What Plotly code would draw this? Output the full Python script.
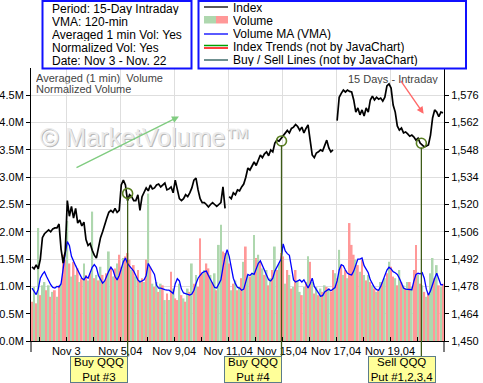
import plotly.graph_objects as go

# ---------------- data ----------------
BARS_PER_DAY = 13          # 30-minute bars per session
FIRST_DAY_BARS = 4         # partial first session shown at the left edge
N_DAYS = 15

day_labels = ["Nov 3", "Nov 5,04", "Nov 9,04", "Nov 11,04", "Nov 15,04", "Nov 17,04", "Nov 19,04"]
day_label_days = [1, 3, 5, 7, 9, 11, 13]   # session number (0 = first full session)

vol_ticks = [0.0, 0.5, 1.0, 1.5, 2.0, 2.5, 3.0, 3.5, 4.0, 4.5]
price_ticks = [1450, 1464, 1478, 1492, 1506, 1520, 1534, 1548, 1562, 1576]

# averaged, normalized volume (millions) per bar
volume = [
    0.72, 0.99, 0.69, 2.07, 0.84, 1.02, 1.08, 0.93, 1.02, 0.81,
    0.90, 0.93, 0.81, 1.02, 1.05, 1.58, 1.49, 2.20, 1.42, 1.18,
    1.45, 1.21, 1.33, 1.08, 1.15, 1.42, 1.21, 1.11, 1.24, 2.37,
    1.15, 1.21, 1.11, 1.36, 1.21, 1.08, 1.24, 1.64, 1.36, 1.18,
    1.33, 1.42, 1.58, 1.36, 1.52, 1.55, 1.61, 1.49, 1.30, 1.39,
    1.18, 1.30, 1.11, 1.15, 1.08, 1.49, 2.70, 1.36, 1.05, 0.99,
    1.08, 0.90, 1.05, 1.02, 0.75, 0.87, 0.75, 1.27, 0.96, 0.78,
    0.75, 1.05, 0.84, 0.78, 0.72, 0.96, 0.90, 1.42, 1.05, 1.21,
    0.99, 1.88, 1.24, 1.30, 1.42, 1.33, 1.21, 1.08, 1.24, 0.93,
    1.76, 2.13, 1.64, 1.61, 1.61, 1.42, 0.93, 1.05, 1.11, 0.93,
    0.99, 1.15, 1.45, 1.73, 1.21, 1.18, 1.24, 1.94, 1.52, 1.58,
    1.45, 1.33, 1.21, 1.30, 1.02, 1.15, 1.30, 1.73, 1.30, 1.42,
    1.61, 1.55, 1.05, 1.30, 1.21, 0.96, 0.99, 1.30, 1.11, 0.90,
    0.84, 0.99, 1.08, 1.55, 1.45, 1.08, 0.87, 0.99, 0.84, 0.96,
    0.90, 1.02, 0.99, 0.96, 0.90, 1.30, 1.24, 1.15, 1.67, 1.39,
    1.21, 1.30, 1.15, 2.16, 1.76, 1.58, 1.49, 1.39, 1.27, 1.49,
    1.21, 1.11, 1.21, 1.08, 1.02, 0.96, 0.90, 0.93, 1.08, 1.08,
    1.15, 1.24, 1.45, 1.36, 1.18, 1.15, 1.02, 1.30, 1.08, 1.02,
    0.96, 1.08, 1.08, 0.99, 1.30, 1.76, 1.21, 1.05, 1.02, 0.90,
    0.81, 0.87, 1.24, 1.52, 1.15, 1.39, 1.02, 0.99, 1.05,
]

# bar colour: g = green, r = red
vol_dir = [
    "r", "g", "r", "g", "r", "g", "g", "r", "g", "r",
    "g", "r", "g", "r", "g", "r", "r", "g", "r", "g",
    "r", "g", "r", "g", "r", "g", "r", "g", "r", "g",
    "r", "g", "r", "g", "r", "g", "r", "g", "r", "g",
    "r", "g", "r", "r", "g", "r", "r", "r", "g", "r",
    "g", "r", "g", "r", "g", "r", "g", "r", "g", "r",
    "g", "r", "g", "r", "g", "r", "g", "r", "g", "r",
    "r", "g", "r", "g", "r", "g", "r", "g", "r", "g",
    "r", "r", "r", "g", "r", "r", "g", "r", "g", "r",
    "g", "g", "r", "r", "g", "r", "g", "r", "g", "r",
    "g", "r", "g", "r", "g", "r", "g", "g", "r", "g",
    "r", "g", "r", "g", "r", "g", "r", "g", "r", "g",
    "r", "r", "g", "r", "g", "r", "g", "r", "g", "g",
    "r", "g", "r", "g", "r", "g", "r", "g", "r", "g",
    "r", "g", "r", "g", "r", "r", "g", "r", "g", "r",
    "g", "r", "g", "r", "r", "r", "g", "r", "g", "r",
    "g", "r", "g", "r", "g", "r", "g", "r", "g", "r",
    "g", "r", "g", "r", "r", "g", "r", "g", "r", "g",
    "r", "g", "r", "g", "r", "r", "g", "r", "g", "r",
    "g", "r", "g", "g", "r", "g", "r", "g", "r",
]

# 120-min volume moving average (millions)
vma = [
    0.97, 0.92, 0.85, 0.95, 1.15, 1.22, 1.27, 1.18, 1.10, 1.03,
    0.98, 0.97, 1.00, 0.99, 1.05, 1.35, 1.60, 1.82, 1.75, 1.55,
    1.45, 1.38, 1.30, 1.22, 1.15, 1.12, 1.18, 1.15, 1.25, 1.35,
    1.40, 1.35, 1.20, 1.12, 1.06, 1.10, 1.20, 1.28, 1.35, 1.30,
    1.18, 1.12, 1.20, 1.35, 1.45, 1.52, 1.42, 1.37, 1.32, 1.28,
    1.20, 1.12, 1.08, 1.10, 1.12, 1.20, 1.42, 1.35, 1.27, 1.22,
    1.02, 0.97, 0.97, 0.95, 0.94, 0.93, 0.93, 0.90, 0.87, 1.05,
    1.14, 1.10, 0.95, 0.88, 0.87, 0.85, 0.84, 0.86, 0.93, 1.05,
    1.15, 1.20, 1.25, 1.27, 1.28, 1.20, 1.12, 1.05, 0.98, 0.97,
    1.05, 1.12, 1.35, 1.55, 1.67, 1.55, 1.35, 1.15, 1.05, 0.98,
    0.97, 0.93, 0.95, 1.10, 1.22, 1.20, 1.24, 1.22, 1.32, 1.42,
    1.47, 1.38, 1.30, 1.22, 1.12, 1.10, 1.15, 1.28, 1.35, 1.42,
    1.50, 1.78, 1.65, 1.60, 1.57, 1.35, 1.12, 1.08, 1.10, 1.12,
    1.08, 1.12, 1.05, 0.97, 1.05, 1.15, 1.00, 0.95, 0.88, 0.82,
    0.83, 0.90, 0.93, 0.95, 0.92, 0.95, 0.98, 1.10, 1.30, 1.40,
    1.38, 1.30, 1.24, 1.22, 1.21, 1.28, 1.40, 1.50, 1.50, 1.52,
    1.38, 1.30, 1.25, 1.12, 1.05, 0.98, 0.94, 0.93, 1.00, 1.12,
    1.20, 1.30, 1.35, 1.32, 1.27, 1.25, 1.22, 1.15, 1.05, 0.97,
    0.95, 0.95, 0.95, 0.94, 1.10, 1.22, 1.24, 1.23, 1.25, 1.15,
    0.95, 0.84, 0.92, 1.05, 1.15, 1.24, 1.15, 1.03, 1.03,
]

# index level per bar (None = gap in the intraday line)
index_vals = [
    1488, 1487, 1489, 1487, 1492, 1503, 1505, 1506, 1507, 1506,
    1507.5, 1508, 1508, 1510, 1497, 1490, 1496, 1522, 1514, 1519,
    1513, 1518, 1510.5, 1512, 1509, 1511, 1502, 1499, 1500, 1496.5,
    1494, 1492.5, 1497.5, 1503, 1506, 1510, 1513, 1516, 1517, 1516,
    1518, 1516, 1517, 1530, 1532.5, 1530, 1522, 1525, 1524, 1522,
    1522, 1525, 1517, 1524, 1526, 1528.5, 1527, 1530, 1528, 1528.5,
    1530, 1530.5, 1529, 1530, 1531, 1527.5, 1528, 1529, 1526, 1532.5,
    1527, 1523, 1522, 1523, 1525, 1524, 1526, 1528.5, 1532.5, 1533.5,
    1527.5, 1523, 1521, 1521, 1520, 1518.7, 1520, 1521, 1520, 1519,
    1520, 1521, 1529, 1518, None, 1524, 1523, 1526, 1525, 1527.5,
    1527, 1529, 1530.5, 1534, 1538.7, 1537.7, 1540, 1541.8, 1540, 1543,
    1545.4, 1544, 1546, 1547, 1545, 1548, 1547, 1551.5, 1553, 1552.5,
    1554, 1555.6, 1557, 1558, 1556.7, 1559, 1559.7, 1561, 1560, 1558,
    1559.7, 1556.7, 1559, 1560.8, 1553, 1545.4, 1544, 1546.4, 1547, 1548,
    1547.4, 1550.5, 1553, 1549, 1547, 1548, None, 1563, 1575, 1577,
    1578.7, 1577.7, 1578.7, 1578, 1577.7, 1573.6, 1567.4, 1569.5, 1566, 1568.5,
    1565.4, 1569.5, 1567.4, 1573.6, 1575.6, 1573.6, 1575, 1574, 1574.6, 1573,
    1575, 1580.8, 1581.8, 1579.7, 1571, 1567.4, 1560.3, 1558.2, 1559.2, 1556.7,
    1557.2, 1556.2, 1555, 1555.6, 1554.6, 1553, 1554, 1551.5, 1550.5, 1549.5,
    1550, 1550.5, 1555.6, 1564.4, 1568.5, 1567.4, 1565, 1567.4, 1567,
]

# buy / sell signals (bar position, index level at the signal)
signal_bars = [46.06, 120.2, 187.6]
signal_prices = [1525.7, 1552.6, 1551.4]
signal_text = ["Buy QQQ<br>Put #3", "Buy QQQ<br>Put #4", "Sell QQQ<br>Put #1,2,3,4"]

# hand-drawn trend arrows (tail bar, tail volume-scale level, head bar, head level)
trend_up = [20.7, 3.16, 70.8, 4.11]
trend_down = [177.2, 4.79, 188.7, 4.16]

info_lines = ["Period: 15-Day Intraday", "VMA: 120-min", "Averaged 1 min Vol: Yes",
              "Normalized Vol: Yes", "Date: Nov 3 - Nov. 22"]
legend_lines = ["Index", "Volume", "Volume MA (VMA)",
                "Index Trends (not by JavaChart)", "Buy / Sell Lines (not by JavaChart)"]

# ---------------- styling / layout helpers ----------------
W, H = 483, 383
PL, PR, PT, PB = 31, 444, 68, 341     # plot area in pixels
FONT = "Liberation Sans, Arial, sans-serif"
GREEN = "rgb(174,215,174)"
RED = "rgb(255,152,152)"
SIG = "#3e5c18"
CIRCLE = "#5a7f22"


def px(x):
    return (x - PL) / (PR - PL)


def py(y):
    return (PB - y) / (PB - PT)


n = len(volume)
bars = list(range(n))
bar_colors = [GREEN if d == "g" else RED for d in vol_dir]

boundaries = [FIRST_DAY_BARS - 0.5 + BARS_PER_DAY * d for d in range(N_DAYS)]
major_vals = [boundaries[d] for d in day_label_days]
minor_vals = [b for i, b in enumerate(boundaries) if i not in day_label_days]

fig = go.Figure()
fig.add_trace(go.Bar(x=bars, y=volume, marker=dict(color=bar_colors, line=dict(width=0)),
                     hoverinfo="skip"))
fig.add_trace(go.Scatter(x=bars, y=vma, mode="lines", line=dict(color="#0000ff", width=1.3)))
fig.add_trace(go.Scatter(x=bars, y=index_vals, mode="lines", yaxis="y2",
                         connectgaps=False, line=dict(color="black", width=1.7)))
fig.add_trace(go.Scatter(x=signal_bars, y=signal_prices, mode="markers", yaxis="y2",
                         cliponaxis=False,
                         marker=dict(symbol="circle-open", size=10, color=CIRCLE,
                                     line=dict(color=CIRCLE, width=1.6))))

shapes = []
annotations = []

# signal lines and boxes
for sb, sp, st, k in zip(signal_bars, signal_prices, signal_text, range(3)):
    shapes.append(dict(type="line", xref="x", yref="y2", x0=sb, x1=sb, y0=price_ticks[0], y1=sp - 2.2,
                       line=dict(color=SIG, width=1.3)))
    shapes.append(dict(type="line", xref="x", yref="paper", x0=sb, x1=sb, y0=py(356), y1=0,
                       line=dict(color=SIG, width=1.3)))
    wide = (k == 2)
    annotations.append(dict(xref="x", yref="paper", x=sb, y=py(355.5), xanchor="right", yanchor="top",
                            xshift=14.5 if wide else 0.5,
                            text=st, showarrow=False, align="center",
                            width=66 if wide else 56, height=25,
                            bgcolor="#ffff99", bordercolor="#5b7c8a", borderwidth=1, borderpad=0,
                            font=dict(family=FONT, size=11.5, color="black")))

# axis line extensions below the plot
for xx in (0, 1):
    shapes.append(dict(type="line", xref="paper", yref="paper", x0=xx, x1=xx, y0=py(352), y1=0,
                       line=dict(color="black", width=1)))

# top info boxes
shapes.append(dict(type="rect", xref="paper", yref="paper", x0=px(42.5), x1=px(191.5),
                   y0=py(68.5), y1=py(1), line=dict(color="#1010ff", width=2)))
shapes.append(dict(type="rect", xref="paper", yref="paper", x0=px(198.5), x1=px(466),
                   y0=py(68.5), y1=py(1), line=dict(color="#1010ff", width=2)))

line_y = [8.3, 21.5, 34.7, 47.7, 60.7]
for t, yy in zip(info_lines, line_y):
    annotations.append(dict(xref="paper", yref="paper", x=px(50), y=py(yy), xanchor="left",
                            yanchor="middle", text=t, showarrow=False, height=13,
                            font=dict(family=FONT, size=12, color="black")))
for t, yy in zip(legend_lines, line_y):
    annotations.append(dict(xref="paper", yref="paper", x=px(231), y=py(yy - 1), xanchor="left",
                            yanchor="middle", text=t, showarrow=False, height=13,
                            font=dict(family=FONT, size=12, color="black")))

# legend symbols
shapes.append(dict(type="line", xref="paper", yref="paper", x0=px(204), x1=px(228), y0=py(7), y1=py(7),
                   line=dict(color="black", width=1.3)))
shapes.append(dict(type="rect", xref="paper", yref="paper", x0=px(204), x1=px(216), y0=py(23.5), y1=py(16),
                   fillcolor=GREEN, line=dict(width=0)))
shapes.append(dict(type="rect", xref="paper", yref="paper", x0=px(216), x1=px(228), y0=py(23.5), y1=py(16),
                   fillcolor=RED, line=dict(width=0)))
shapes.append(dict(type="line", xref="paper", yref="paper", x0=px(204), x1=px(228), y0=py(34), y1=py(34),
                   line=dict(color="#0000ff", width=1.3)))
shapes.append(dict(type="line", xref="paper", yref="paper", x0=px(204), x1=px(228), y0=py(45.5), y1=py(45.5),
                   line=dict(color="#00a000", width=1.5)))
shapes.append(dict(type="line", xref="paper", yref="paper", x0=px(204), x1=px(228), y0=py(48), y1=py(48),
                   line=dict(color="#ff0000", width=1.5)))
shapes.append(dict(type="line", xref="paper", yref="paper", x0=px(204), x1=px(228), y0=py(60), y1=py(60),
                   line=dict(color="#3f6b6b", width=1.5)))

# watermark
annotations.append(dict(xref="paper", yref="paper", x=px(38), y=py(137), xanchor="left", yanchor="middle",
                        xshift=1, yshift=-1,
                        text="© MarketVolume™", showarrow=False,
                        font=dict(family=FONT, size=25, color="#b9b9b9")))
annotations.append(dict(xref="paper", yref="paper", x=px(38), y=py(137), xanchor="left", yanchor="middle",
                        text="© MarketVolume™", showarrow=False,
                        font=dict(family=FONT, size=25, color="#ebebeb")))

# captions
annotations.append(dict(xref="paper", yref="paper", x=px(34), y=py(78), xanchor="left", yanchor="middle",
                        text="Averaged (1 min)  Volume", showarrow=False, height=10.5,
                        font=dict(family=FONT, size=11, color="#444444")))
annotations.append(dict(xref="paper", yref="paper", x=px(34), y=py(89.5), xanchor="left", yanchor="middle",
                        text="Normalized Volume", showarrow=False, height=10.5,
                        font=dict(family=FONT, size=11, color="#444444")))
annotations.append(dict(xref="paper", yref="paper", x=px(440), y=py(78), xanchor="right", yanchor="middle",
                        text="15 Days - Intraday", showarrow=False, height=11,
                        font=dict(family=FONT, size=11, color="#444444")))

# trend arrows
for tr, col in ((trend_up, "#80cc80"), (trend_down, "#ff6a6a")):
    annotations.append(dict(xref="x", yref="y", axref="x", ayref="y",
                            ax=tr[0], ay=tr[1], x=tr[2], y=tr[3], text="",
                            showarrow=True, arrowhead=2, arrowsize=1, arrowwidth=1.4,
                            arrowcolor=col, standoff=0))

tickfont = dict(family=FONT, size=11, color="black")
fig.update_layout(
    template="none",
    width=W, height=H,
    margin=dict(l=PL, r=W - PR, t=PT, b=H - PB, pad=0, autoexpand=False),
    paper_bgcolor="white", plot_bgcolor="white",
    font=dict(family=FONT, size=11, color="black"),
    showlegend=False, bargap=0.15, hovermode=False,
    shapes=shapes, annotations=annotations,
    xaxis=dict(range=[-0.5, n - 0.5], tickmode="array", tickvals=major_vals, ticktext=day_labels,
               tickangle=0, automargin=False,
               ticks="inside", ticklen=4, tickcolor="black", showgrid=True, gridcolor="#dedede",
               gridwidth=1, showline=True, linecolor="black", linewidth=1, zeroline=False,
               tickfont=tickfont, fixedrange=True,
               minor=dict(tickmode="array", tickvals=minor_vals, ticks="inside", ticklen=4,
                          tickcolor="black", showgrid=False)),
    yaxis=dict(range=[0, 5], tickmode="array", tickvals=vol_ticks,
               ticktext=["%.1fM" % v for v in vol_ticks], automargin=False,
               ticks="outside", ticklen=4, tickcolor="black", showgrid=True, gridcolor="#dedede",
               gridwidth=1, showline=True, linecolor="black", linewidth=1, zeroline=False,
               tickfont=tickfont),
    yaxis2=dict(range=[1450, 1590], overlaying="y", side="right", tickmode="array",
                tickvals=price_ticks, ticktext=["{:,}".format(v) for v in price_ticks],
                automargin=False,
                ticks="outside", ticklen=4, tickcolor="black", showgrid=False,
                showline=True, linecolor="black", linewidth=1, zeroline=False, tickfont=tickfont),
)

fig.write_html("out.html",
               config={"displayModeBar": False},
               post_script="document.body.style.margin='0';document.body.style.padding='0';"
                           "document.body.style.overflow='hidden';")
